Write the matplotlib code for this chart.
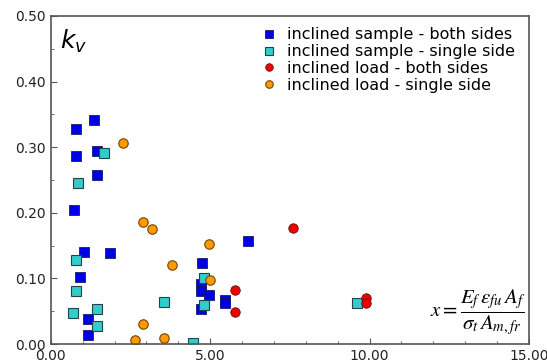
import matplotlib
matplotlib.use("Agg")
import matplotlib.pyplot as plt
from matplotlib.ticker import MultipleLocator, FormatStrFormatter

# inclined sample - both sides
isb_x = [1.36, 0.79, 1.44, 0.79, 1.44, 0.71, 1.03, 1.87, 0.92, 1.18, 1.18,
         6.17, 4.74, 4.72, 4.72, 4.97, 5.45, 5.47, 4.72]
isb_y = [0.341, 0.328, 0.295, 0.286, 0.258, 0.204, 0.140, 0.139, 0.102, 0.038, 0.014,
         0.157, 0.124, 0.092, 0.081, 0.075, 0.067, 0.062, 0.053]

# inclined sample - single side
iss_x = [1.68, 0.84, 0.79, 0.79, 3.56, 0.70, 1.44, 1.44, 4.81, 4.79, 4.46, 9.61]
iss_y = [0.291, 0.245, 0.128, 0.081, 0.064, 0.047, 0.054, 0.027, 0.101, 0.060, 0.001, 0.063]

# inclined load - both sides
ilb_x = [7.60, 5.79, 5.79, 9.90, 9.90]
ilb_y = [0.177, 0.082, 0.049, 0.070, 0.063]

# inclined load - single side
ils_x = [2.27, 2.88, 3.17, 3.79, 2.88, 2.65, 3.56, 4.95, 4.98]
ils_y = [0.307, 0.186, 0.176, 0.120, 0.030, 0.006, 0.010, 0.153, 0.098]

fig = plt.figure(figsize=(5.47, 3.63), dpi=100)
ax = fig.add_axes([0.093, 0.052, 0.874, 0.904])

ax.plot(isb_x, isb_y, "s", color="#0000e6", mec="#1a1a66", mew=0.6, ms=6.8,
        label="inclined sample - both sides")
ax.plot(iss_x, iss_y, "s", color="#33cccc", mec="#224444", mew=0.8, ms=6.8,
        label="inclined sample - single side")
ax.plot(ilb_x, ilb_y, "o", color="#ee0000", mec="#661111", mew=0.6, ms=6.8,
        label="inclined load - both sides")
ax.plot(ils_x, ils_y, "o", color="#ff9900", mec="#774400", mew=0.8, ms=6.8,
        label="inclined load - single side")

ax.set_xlim(0, 15)
ax.set_ylim(0, 0.5)
ax.xaxis.set_major_locator(MultipleLocator(5))
ax.xaxis.set_minor_locator(MultipleLocator(1))
ax.yaxis.set_major_locator(MultipleLocator(0.1))
ax.yaxis.set_minor_locator(MultipleLocator(0.05))
ax.xaxis.set_major_formatter(FormatStrFormatter("%.2f"))
ax.yaxis.set_major_formatter(FormatStrFormatter("%.2f"))
ax.tick_params(which="both", direction="in", colors="#555555", labelcolor="#222222",
               labelsize=10, top=False, right=False)
ax.tick_params(which="major", length=4)
ax.tick_params(which="minor", length=2)
for s in ax.spines.values():
    s.set_color("#555555")
    s.set_linewidth(1.2)

ax.text(0.02, 0.965, r"$k_v$", transform=ax.transAxes, fontsize=18,
        ha="left", va="top")

ax.legend(loc="upper right", frameon=False, fontsize=11.5, handlelength=0.6,
          handletextpad=0.8, labelspacing=0.12, borderaxespad=0.2,
          markerscale=0.8, bbox_to_anchor=(0.99, 0.995))

ax.text(0.993, 0.022,
        r"$x=\dfrac{E_f\,\varepsilon_{fu}\,A_f}{\sigma_t\,A_{m,fr}}$",
        transform=ax.transAxes, fontsize=15, ha="right", va="bottom",
        math_fontfamily="stix")

fig.savefig("out.png", dpi=100)
